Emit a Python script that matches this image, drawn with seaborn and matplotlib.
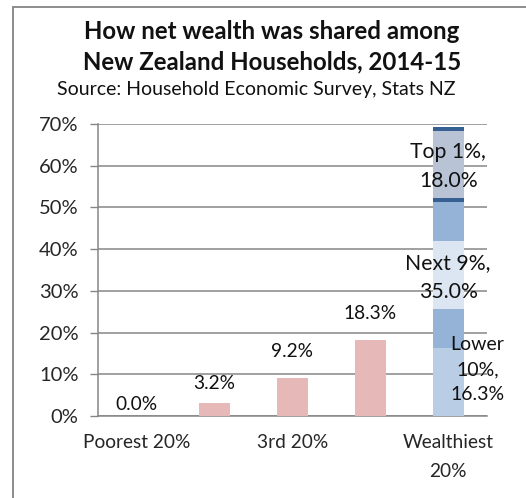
import numpy as np
import pandas as pd
import seaborn as sns
import matplotlib.pyplot as plt
from matplotlib.patches import Rectangle

# quintiles of households, share of total net wealth (%)
categories = ["Poorest 20%", "2nd 20%", "3rd 20%", "4th 20%", "Wealthiest 20%"]
tick_labels = ["Poorest 20%", "", "3rd 20%", "", "Wealthiest\n20%"]
quintile_share = [0.0, 3.2, 9.2, 18.3]

# wealthiest quintile split into groups
groups = ["Lower 10%", "Next 9%", "Top 1%"]
group_share = [16.3, 35.0, 18.0]

# the wealthiest bar is drawn in bands (bottom to top)
band_values = [16.3, 9.45, 16.1, 9.45, 1.0, 16.0, 1.0]
band_colors = ["#b9cde5", "#95b3d7", "#dce6f2", "#95b3d7", "#376092", "#b8c4d6", "#376092"]

sns.set_style("white")
plt.rcParams["font.family"] = ["Lato", "DejaVu Sans"]
plt.rcParams["text.color"] = "#111111"

fig = plt.figure(figsize=(5.26, 4.98), dpi=100)
ax = fig.add_axes([98 / 526, 1 - 416 / 498, 389 / 526, 292 / 498])

df = pd.DataFrame({"group": categories[:4], "share": quintile_share})
sns.barplot(data=df, x="group", y="share", order=categories, color="#e6b9b8",
            width=0.4, saturation=1, linewidth=0, ax=ax, zorder=3)

bottoms = np.concatenate([[0], np.cumsum(band_values)[:-1]])
ax.bar([4] * len(band_values), band_values, bottom=bottoms, width=0.4,
       color=band_colors, linewidth=0, zorder=3)

# value labels for the quintile bars
label_pad = [2, 8, 12.5, 12.5]
for i, v in enumerate(quintile_share):
    ax.annotate(f"{v:.1f}%", (i, v), xytext=(0, label_pad[i]), textcoords="offset points",
                ha="center", va="bottom", fontsize=13.8, zorder=5)

# labels for the wealthiest groups
group_bottoms = np.concatenate([[0], np.cumsum(group_share)[:-1]])
centers = group_bottoms + np.array(group_share) / 2
ax.text(4, centers[2] - 0.5, f"Top 1%,\n{group_share[2]:.1f}%", ha="center", va="center",
        fontsize=15.3, linespacing=1.6, zorder=5)
ax.text(4, centers[1] - 0.6, f"Next 9%,\n{group_share[1]:.1f}%", ha="center", va="center",
        fontsize=15.3, linespacing=1.6, zorder=5)
ax.text(4.38, centers[0] + 3.0, f"Lower\n10%,\n{group_share[0]:.1f}%", ha="center", va="center",
        fontsize=14, linespacing=1.55, zorder=5)

ax.set_ylim(0, 70)
ax.set_xlim(-0.5, 4.5)
ax.set_yticks(np.arange(0, 71, 10))
ax.set_yticklabels([f"{t}%" for t in range(0, 71, 10)], fontsize=14.5)
ax.set_xticks(range(len(categories)))
ax.set_xticklabels(tick_labels, fontsize=13.8, linespacing=1.85)
ax.set_xticks(np.arange(-0.5, 4.6, 1), minor=True)
ax.tick_params(axis="x", which="major", length=0, pad=13)
ax.tick_params(axis="x", which="minor", length=6, width=1, color="#868686", direction="out")
ax.tick_params(axis="y", length=6, width=1, color="#868686", direction="out", pad=8, left=True)
ax.set_xlabel("")
ax.set_ylabel("")
ax.grid(axis="y", color="#868686", linewidth=1.1, zorder=0)
for side in ["top", "right"]:
    ax.spines[side].set_visible(False)
for side in ["left", "bottom"]:
    ax.spines[side].set_color("#868686")
    ax.spines[side].set_linewidth(1.1)

fig.text(272 / 526, 1 - 47 / 498, "How net wealth was shared among\nNew Zealand Households, 2014-15",
         ha="center", va="center", fontsize=17.3, fontweight="bold", linespacing=1.4)
fig.text(256 / 526, 1 - 90 / 498, "Source: Household Economic Survey, Stats NZ",
         ha="center", va="center", fontsize=14)

fig.patches.append(Rectangle((13 / 526, -0.1), 1.2, 1.1 - 7 / 498, transform=fig.transFigure,
                             fill=False, edgecolor="#8c8c8c", linewidth=1.4))

fig.savefig("out.png", dpi=100)
